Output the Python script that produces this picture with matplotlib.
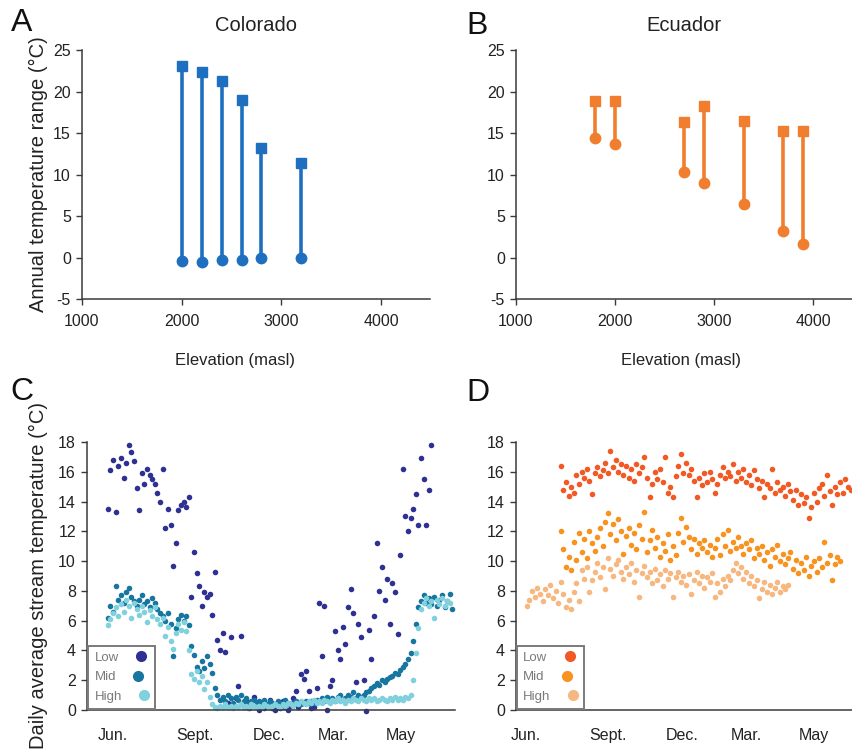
import numpy as np
import matplotlib.pyplot as plt

plt.rcParams['font.family'] = ['Liberation Sans', 'DejaVu Sans']
plt.rcParams['axes.unicode_minus'] = False

# --- A / B: annual temperature range per site (min -> max)
co_elev = [2000, 2200, 2400, 2600, 2800, 3200]
co_max = [23.1, 22.3, 21.3, 18.95, 13.2, 11.4]
co_min = [-0.4, -0.5, -0.3, -0.3, -0.1, -0.1]

ec_elev = [1800, 2000, 2700, 2900, 3300, 3700, 3900]
ec_max = [18.8, 18.8, 16.3, 18.3, 16.5, 15.2, 15.2]
ec_min = [14.4, 13.65, 10.25, 8.95, 6.5, 3.2, 1.65]

# --- C / D: daily mean stream temp, read every 3rd day (day 0 ~ 1 June)
step = 3
month_pos = [0, 94, 180, 253, 331]
month_lab = ['Jun.', 'Sept.', 'Dec.', 'Mar.', 'May']
levels = ['Low', 'Mid', 'High']

co_low_start = -6
co_low = [13.5, 16.1, 16.8, 13.3, 16.4, 16.9, 15.6, 16.6, 17.8, 17.3,
          16.7, 14.9, 13.4, 15.9, 15.2, 16.2, 15.8, 15.5, 15.2, 14.6,
          14.0, 16.2, 12.2, 13.5, 12.4, 9.7, 11.2, 13.4, 13.8, 14.0,
          13.6, 14.3,
          7.6, 10.6, 9.2, 8.3, 7.0, 7.9, 7.6, 7.8, 6.4, 9.3, 4.7, 4.0, 5.2,
          3.9, 0.5, 4.9, 0.3, 0.8, 1.6, 5.0, 0.2, 0.6, 0.1, 0.4, 0.9, 0.2,
          0.0, 0.5, 0.1, 0.3, 0.7, 0.1, 0.0, 0.4, 0.1, 0.6, 0.2, 0.0, 0.3,
          0.8, 1.3, 0.2, 2.4, 2.1, 2.6,
          1.3, 0.1, 0.2, 1.5, 7.2, 3.6, 7.0, 0.0, 1.6, 2.0, 5.3, 4.0, 3.4,
          5.6, 4.4, 6.9, 8.1, 6.5, 1.9, 5.8, 4.9, 2.0, -0.1, 5.4, 3.4, 6.3,
          11.2, 8.0, 9.6, 7.4, 8.8, 5.8, 8.5, 7.9, 5.1, 10.4, 16.2, 13.0,
          12.0, 12.9, 13.5, 14.5, 12.4, 16.9, 15.5, 12.4, 14.8, 17.8]

co_mid_start = -6
co_mid = [6.2, 7.0, 6.6, 8.3, 7.4, 7.7, 7.2, 7.9, 8.2, 7.6,
          7.3, 7.0, 7.4, 7.7, 7.1, 7.3, 6.9, 7.5, 7.2, 6.8,
          6.5, 6.3, 6.0, 6.5, 5.8, 3.6, 5.5, 6.1, 6.4, 6.0,
          6.3, 5.7, 4.3, 3.7, 2.9, 2.6, 3.3, 2.8, 3.6, 3.1,
          2.5, 1.5, 1.0, 0.7, 0.9, 0.6, 1.0, 0.8, 0.5, 0.9,
          0.7, 1.0, 0.6, 0.8, 0.5, 0.6, 0.7, 0.4, 0.6, 0.5,
          0.7, 0.4, 0.6, 0.5, 0.4, 0.6, 0.5, 0.4, 0.7, 0.5,
          0.4, 0.5, 0.6, 0.5, 0.4, 0.5, 0.6, 0.5, 0.6, 0.5,
          0.7, 0.6, 0.8, 0.6, 0.9, 0.7, 0.8, 0.6, 0.9, 1.0,
          0.7, 0.8, 1.0, 0.9, 1.2, 0.8, 1.0, 0.9, 1.0, 1.2,
          1.3, 1.5, 1.6, 1.8, 1.7, 2.0, 1.9, 2.1, 2.2, 2.3,
          2.5, 2.4, 2.7, 2.9, 3.1, 3.4, 3.8, 4.6, 5.8, 6.9,
          7.3, 7.7, 7.2, 7.5, 7.1, 7.6, 7.0, 7.4, 7.7, 6.9,
          7.3, 7.8, 6.8]

co_high_start = -6
co_high = [5.7, 6.1, 6.5, 6.9, 6.3, 7.1, 6.6, 7.4, 7.0, 6.2,
           7.2, 6.8, 6.4, 7.0, 6.6, 5.9, 6.7, 6.3, 6.9, 6.1,
           5.8, 6.2, 5.0, 5.6, 4.6, 4.1, 5.2, 5.8, 5.4, 5.9,
           5.3, 4.0, 2.4, 2.1, 2.6, 1.9, 2.3, 1.4, 1.9, 0.9,
           0.4, 0.2, 0.1, 0.3, 0.2, 0.4, 0.2, 0.3, 0.1, 0.3,
           0.2, 0.4, 0.2, 0.3, 0.2, 0.4, 0.3, 0.2, 0.3, 0.2,
           0.4, 0.3, 0.2, 0.3, 0.4, 0.3, 0.2, 0.4, 0.3, 0.5,
           0.4, 0.3, 0.5, 0.4, 0.6, 0.5, 0.4, 0.6, 0.5, 0.7,
           0.5, 0.6, 0.5, 0.7, 0.6, 0.5, 0.7, 0.6, 0.8, 0.6,
           0.7, 0.5, 0.7, 0.6, 0.8, 0.7, 0.6, 0.8, 0.7, 0.6,
           0.8, 0.7, 0.8, 0.6, 0.7, 0.8, 0.7, 0.6, 0.8, 0.7,
           0.9, 0.7, 0.8, 0.7, 0.9, 0.8, 1.0, 2.0, 3.8, 5.5,
           6.8, 7.2, 7.5, 7.0, 7.3, 6.2, 7.4, 7.1, 7.5, 7.0,
           7.3, 7.2]

ec_low_start = 40
ec_low = [16.4, 14.8, 15.3, 14.4, 15.0, 14.6, 15.8, 15.2, 16.0, 15.6,
          16.2, 15.4, 14.5, 15.9, 16.3, 15.7, 16.1, 16.6, 15.9, 17.4,
          16.3, 16.8, 16.0, 16.5, 15.8, 16.4, 15.6, 16.2, 15.4, 16.5,
          15.9, 16.3, 17.0, 15.6, 14.3, 15.2, 16.0, 15.5, 16.2, 15.3,
          17.0, 14.6, 15.0, 14.3, 15.7, 16.4, 17.2, 15.9, 16.6, 15.8,
          16.2, 15.4, 14.3, 15.6, 15.1, 15.9, 15.3, 16.0, 15.5, 14.6,
          15.2, 15.8, 16.3, 15.6, 16.0, 15.7, 16.5, 15.4, 16.0, 15.6,
          16.2, 15.3, 15.8, 15.1, 16.1, 15.5, 14.9, 15.4, 14.3, 15.2,
          14.9, 16.2, 14.6, 15.3, 14.8, 15.0, 14.4, 15.2, 14.7, 14.1,
          14.8, 13.8, 14.5, 13.9, 14.3, 12.9, 13.6, 14.6, 14.0, 14.9,
          15.2, 14.4, 15.8, 14.7, 13.8, 15.0, 14.5, 15.3, 14.6, 15.5,
          15.0, 14.8]

ec_mid_start = 40
ec_mid = [12.0, 10.8, 9.6, 10.3, 9.4, 11.3, 10.1, 11.9, 10.6, 11.5,
          10.2, 12.0, 11.2, 10.7, 11.6, 12.2, 11.0, 12.6, 13.2, 11.8,
          12.5, 11.4, 12.8, 12.0, 10.5, 11.7, 12.2, 11.1, 11.9, 10.8,
          12.4, 11.5, 13.3, 10.6, 11.4, 12.1, 10.9, 11.6, 10.3, 11.2,
          10.7, 11.8, 10.1, 11.0, 10.4, 11.9, 12.9, 11.3, 12.3, 11.6,
          10.8, 11.5, 10.5, 11.2, 10.9, 11.4, 10.6, 11.1, 10.3, 10.9,
          11.5, 10.4, 11.8, 11.0, 12.1, 10.7, 11.3, 10.9, 11.6, 11.0,
          10.5, 11.2, 10.8, 11.4, 10.2, 10.9, 10.5, 11.0, 10.1, 10.6,
          9.7, 10.8, 10.3, 11.1, 10.0, 10.5, 9.8, 10.2, 10.6, 9.5,
          10.1, 9.2, 9.9, 9.4, 10.3, 9.0, 9.7, 10.0, 9.3, 10.2,
          9.6, 11.3, 9.9, 10.4, 8.7, 9.8, 10.3, 10.0]

ec_high_start = 1
ec_high = [7.0, 7.4, 8.0, 7.6, 8.2, 7.8, 7.3, 8.1, 7.7, 8.4,
           7.5, 8.0, 7.2, 8.6, 7.8, 6.9, 7.4, 6.8, 7.9, 8.5,
           7.3, 9.4, 8.8, 9.6, 7.9, 8.7, 9.3, 9.9, 8.9, 9.6,
           8.1, 10.2, 9.5, 9.0, 9.8, 10.1, 9.3, 8.8, 9.6, 9.1,
           9.9, 8.6, 9.4, 7.6, 9.2, 9.7, 8.9, 9.3, 8.5, 9.5,
           8.7, 9.1, 8.3, 9.4, 8.8, 9.2, 7.6, 8.9, 9.3, 8.6,
           9.0, 8.4, 9.1, 7.8, 8.7, 9.3, 8.5, 9.0, 8.2, 8.9,
           8.6, 9.2, 7.6, 8.5, 7.9, 8.8, 8.3, 9.0, 8.7, 9.4,
           9.9, 9.2, 9.6, 8.8, 9.3, 8.5, 9.0, 8.3, 8.7, 7.5,
           8.1, 8.6, 7.9, 8.4, 7.8, 8.2, 8.6, 7.9, 8.3, 8.1,
           8.4]

blue = '#1f6fc0'
orange = '#f07e2e'
co_cols = ['#2e3192', '#17769f', '#80d0dd']
ec_cols = ['#f15a24', '#f7931e', '#f6b880']
spine_col = '#3a3a3a'


def day_axis(start, vals):
    return start + step * np.arange(len(vals))


def style_axes(ax):
    for s in ['top', 'right']:
        ax.spines[s].set_visible(False)
    for s in ['left', 'bottom']:
        ax.spines[s].set_color(spine_col)
        ax.spines[s].set_linewidth(1.1)
    ax.tick_params(colors=spine_col, labelcolor='#222222', labelsize=11.5,
                   width=1.0, length=4)


def range_panel(ax, elev, lo, hi, col, title, xmax, xlab_x):
    ax.vlines(elev, lo, hi, color=col, lw=2.6, zorder=2)
    ax.plot(elev, hi, 's', color=col, ms=7, zorder=3)
    ax.plot(elev, lo, 'o', color=col, ms=7.5, zorder=3)
    ax.set_xlim(1000, xmax)
    ax.set_ylim(-5, 25)
    ax.set_xticks([1000, 2000, 3000, 4000])
    ax.set_yticks(range(-5, 26, 5))
    style_axes(ax)
    ax.tick_params(axis='x', pad=7)
    ax.tick_params(axis='y', pad=4)
    ax.set_xlabel('Elevation (masl)', fontsize=12, color='#222222')
    ax.xaxis.set_label_coords(xlab_x, -0.215)
    ax.set_title(title, fontsize=14.5, color='#222222', pad=14)


def level_legend(ax, cols):
    handles = [plt.Line2D([], [], ls='', marker='o', ms=7, color=c) for c in cols]
    leg = ax.legend(handles, levels, loc='lower left',
                    bbox_to_anchor=(0.004, 0.004), borderaxespad=0,
                    markerfirst=False, fontsize=9.5, labelcolor='#7a7a7a',
                    handlelength=0.8, handletextpad=1.3, labelspacing=0.55,
                    borderpad=0.45, fancybox=False, framealpha=1)
    leg.get_frame().set_edgecolor('#7a7a7a')
    leg.get_frame().set_linewidth(1.4)
    # keep the labels left-aligned even though the markers sit on the right
    for col in leg._legend_handle_box.get_children():
        col.align = 'left'


def series_panel(ax, series, cols, xlim):
    for (start, vals), c in series:
        ax.scatter(day_axis(start, vals), vals, s=16, color=c, lw=0,
                   clip_on=False, zorder=2)
    ax.set_xlim(*xlim)
    ax.set_ylim(0, 18)
    ax.set_yticks(range(0, 19, 2))
    ax.set_xticks(month_pos)
    ax.set_xticklabels(month_lab)
    style_axes(ax)
    ax.tick_params(axis='x', length=0, pad=13)
    ax.tick_params(axis='y', pad=4)
    level_legend(ax, cols)


fig = plt.figure(figsize=(8.52, 7.49), dpi=100)
axA = fig.add_axes([0.0962, 0.6008, 0.4085, 0.3324])
axB = fig.add_axes([0.6056, 0.6008, 0.3944, 0.3324])
axC = fig.add_axes([0.1021, 0.0521, 0.4319, 0.3578])
axD = fig.add_axes([0.6056, 0.0521, 0.3944, 0.3578])

range_panel(axA, co_elev, co_min, co_max, blue, 'Colorado', 4490, 0.44)
range_panel(axB, ec_elev, ec_min, ec_max, orange, 'Ecuador', 4394, 0.49)
axA.set_ylabel('Annual temperature range (°C)', fontsize=14.5, color='#222222')
axA.yaxis.set_label_coords(-0.098, 0.5)

series_panel(axC, [((co_low_start, co_low), co_cols[0]),
                   ((co_mid_start, co_mid), co_cols[1]),
                   ((co_high_start, co_high), co_cols[2])], co_cols, (-30, 393))
series_panel(axD, [((ec_high_start, ec_high), ec_cols[2]),
                   ((ec_mid_start, ec_mid), ec_cols[1]),
                   ((ec_low_start, ec_low), ec_cols[0])], ec_cols, (-11.5, 374.7))

axC.set_ylabel('Daily average stream temperature (°C)', fontsize=14.5,
               color='#222222')
axC.yaxis.set_label_coords(-0.106, 0.5)

for x, y, t in [(22, 23, 'A'), (477, 26, 'B'), (22, 392, 'C'), (478, 393, 'D')]:
    fig.text(x / 852, 1 - y / 749, t, fontsize=23, ha='center', va='center',
             color='#111111')

fig.savefig('out.png', dpi=100)
